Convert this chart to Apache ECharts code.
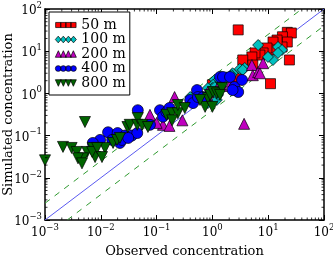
<!DOCTYPE html>
<html><head><meta charset="utf-8">
<script src="https://cdn.jsdelivr.net/npm/echarts@6/dist/echarts.min.js"></script>
<style>html,body{margin:0;padding:0;background:#fff}#c{width:333px;height:260px}</style>
</head><body><div id="c"></div>
<script>
// Data: [observed, simulated]
const s50m = [[22,28],[26,27],[18,22],[22,16.5],[17.7,12.6],[14.4,18.4],[12.2,16.5],[11.7,10.7],[9.5,11.9],[8.1,9.1],[7.1,8.1],[5.8,9.1],[5.1,7.3],[3.5,6.2],[5.3,4.7],[2.8,2.3],[1.0,1.6],[2.9,32],[11,1.7],[24,6.2]];
const s100m = [[6.6,14],[15,12.6],[17.7,10.7],[15,9.1],[12.2,6.2],[9.9,7.3],[3.8,4.0],[3.1,3.8],[3.5,3.6],[2.3,3.0],[2.2,2.7],[1.8,2.4],[1.7,2.3],[1.1,2.1],[1.2,1.9],[1.26,1.6],[1.03,1.6],[1.0,1.34],[0.83,1.34],[0.53,0.92],[0.43,0.78],[0.6,0.92],[0.40,0.82],[1.2,0.70],[1.26,0.92],[0.83,0.59],[1.1,1.4]];
const s200m = [[0.21,0.82],[0.076,0.31],[0.13,0.18],[0.17,0.17],[0.29,0.23],[0.10,0.20],[0.80,0.92],[0.83,1.08],[1.37,1.76],[2.2,1.9],[5.1,4.7],[5.3,2.7],[6.6,3.2],[8.1,5.2],[7.1,3.0],[3.7,0.19],[1.5,1.5]];
const s400m = [[0.0135,0.12],[0.0097,0.079],[0.0072,0.067],[0.020,0.115],[0.027,0.10],[0.036,0.10],[0.045,0.115],[0.022,0.067],[0.046,0.40],[0.024,0.079],[0.076,0.18],[0.115,0.40],[0.13,0.28],[0.15,0.36],[0.17,0.45],[0.40,0.70],[0.53,1.2],[0.45,0.59],[0.55,0.82],[0.68,0.82],[1.37,2.45],[1.55,2.45],[2.07,2.45],[2.5,1.42],[2.9,1.08],[3.4,2.08],[2.3,1.2],[0.031,0.088],[0.016,0.079]];
const s800m = [[0.0052,0.21],[0.001,0.026],[0.0021,0.054],[0.0030,0.051],[0.0037,0.041],[0.0057,0.041],[0.0048,0.029],[0.0072,0.051],[0.0079,0.031],[0.0119,0.051],[0.0039,0.029],[0.0046,0.022],[0.0070,0.041],[0.0086,0.051],[0.0105,0.031],[0.0166,0.067],[0.0195,0.079],[0.022,0.088],[0.030,0.16],[0.033,0.18],[0.045,0.18],[0.046,0.26],[0.055,0.18],[0.070,0.16],[0.15,0.31],[0.19,0.34],[0.24,0.34],[0.24,0.53],[0.32,0.45],[0.19,0.23],[0.74,0.48],[0.83,0.78],[1.0,0.48],[0.91,0.92],[1.03,1.08],[1.2,1.0],[1.49,1.34],[1.37,0.92],[0.60,0.70]];
const seriesNames = ['50 m','100 m','200 m','400 m','800 m'];
const axisMin = 0.001, axisMax = 100;
const majorExps = [-3,-2,-1,0,1];   // decades that carry minor ticks
const minorMult = [2,3,4,5,6,7,8,9];
const factor = 2.5;                 // dashed band factor
const oneToOne = [[axisMin,axisMin],[axisMax,axisMax]];
const upperBand = [[axisMin,axisMin*factor],[axisMax/factor,axisMax]];
const lowerBand = [[axisMin*factor,axisMin],[axisMax,axisMax/factor]];

const FONT = 'DejaVu Serif';
const fmt = v => { const e = Math.round(Math.log10(v)); return '{b|10}{s|' + (e < 0 ? '\u2212' + (-e) : e) + '}'; };
const rich = {
  b: {fontSize: 12, fontFamily: FONT, color: '#000', lineHeight: 16, verticalAlign: 'bottom'},
  s: {fontSize: 8.5, fontFamily: FONT, color: '#000', lineHeight: 16, verticalAlign: 'top'}
};

// legend icons: four markers each
const cx = [3, 8.33, 13.67, 19];
const pad = 'M0,0M22,7';
const iconSq = 'path://' + pad + cx.map(c => `M${c-2.7},0.8h5.4v5.4h-5.4Z`).join('');
const iconDi = 'path://' + pad + cx.map(c => `M${c},0L${c+3},3.5L${c},7L${c-3},3.5Z`).join('');
const iconUp = 'path://' + pad + cx.map(c => `M${c},0L${c+3.2},7L${c-3.2},7Z`).join('');
const iconCi = 'path://' + pad + cx.map(c => `M${c+3},3.5A3,3 0 1 1 ${c-3},3.5A3,3 0 1 1 ${c+3},3.5Z`).join('');
const iconDn = 'path://' + pad + cx.map(c => `M${c-3.2},0L${c+3.2},0L${c},7Z`).join('');

const minorData = [];
majorExps.forEach(e => minorMult.forEach(m => {
  const v = m * Math.pow(10, e);
  minorData.push([v, 1, 0]);
  minorData.push([1, v, 1]);
}));

const edge = {borderColor: '#000', borderWidth: 0.7};
const logAxis = (pos, labels) => ({
  type: 'log', logBase: 10, min: axisMin, max: axisMax, position: pos,
  axisLine: {show: true, onZero: false, lineStyle: {color: '#000', width: 1.5}},
  axisTick: {show: true, inside: true, length: 5, lineStyle: {color: '#000', width: 1}},
  splitLine: {show: false},
  axisLabel: labels ? {show: true, formatter: fmt, rich: rich, showMinLabel: true, showMaxLabel: true, hideOverlap: false} : {show: false}
});

const xB = Object.assign(logAxis('bottom', true), {name: 'Observed concentration', nameLocation: 'middle', nameGap: 25,
  nameMoveOverlap: false,
  nameTextStyle: {fontFamily: FONT, fontSize: 13, color: '#000', verticalAlign: 'top'}});
xB.axisLabel.margin = 3;
xB.axisLabel.align = 'center';
const yL = Object.assign(logAxis('left', true), {name: 'Simulated concentration', nameLocation: 'middle', nameGap: 30,
  nameMoveOverlap: false,
  nameTextStyle: {fontFamily: FONT, fontSize: 13, color: '#000'}});
yL.axisLabel.margin = 3;
yL.axisLabel.align = 'right';

const sc = (name, data, color, symbol, size, rot) => ({
  name, type: 'scatter', data, symbol, symbolSize: size, symbolRotate: rot || 0,
  itemStyle: Object.assign({color, opacity: 1}, edge), xAxisIndex: 0, yAxisIndex: 0, z: 3
});
const refLine = (data, color, type, w) => ({
  type: 'line', data, showSymbol: false, symbol: 'none', silent: true, z: 2,
  lineStyle: {color, width: w, type}, xAxisIndex: 0, yAxisIndex: 0
});

const chart = echarts.init(document.getElementById('c'), null, {renderer: 'canvas'});
chart.setOption({
  animation: false,
  backgroundColor: '#fff',
  grid: {left: 45, right: 9, top: 9, bottom: 40, containLabel: false, outerBoundsMode: 'none'},
  xAxis: [xB, logAxis('top', false)],
  yAxis: [yL, logAxis('right', false)],
  legend: {
    orient: 'vertical', left: 49, top: 12, padding: [6, 4, 5, 6], itemGap: 0.5,
    itemWidth: 21, itemHeight: 7, backgroundColor: '#fff', borderColor: '#000', borderWidth: 1, borderRadius: 0,
    textStyle: {fontFamily: FONT, fontSize: 14, color: '#000', lineHeight: 12},
    itemStyle: {borderColor: '#000', borderWidth: 0.7},
    data: [
      {name: seriesNames[0], icon: iconSq}, {name: seriesNames[1], icon: iconDi},
      {name: seriesNames[2], icon: iconUp}, {name: seriesNames[3], icon: iconCi},
      {name: seriesNames[4], icon: iconDn}
    ], z: 10
  },
  series: [
    refLine(oneToOne, '#5a5af0', 'solid', 1),
    refLine(upperBand, '#2f9a2f', [6, 6], 1),
    refLine(lowerBand, '#2f9a2f', [6, 6], 1),
    sc(seriesNames[0], s50m, '#ff0000', 'rect', 10),
    sc(seriesNames[1], s100m, '#00bfbf', 'diamond', 11),
    sc(seriesNames[2], s200m, '#bf00bf', 'triangle', 11),
    sc(seriesNames[3], s400m, '#0000ff', 'circle', 11),
    sc(seriesNames[4], s800m, '#006400', 'triangle', 11, 180),
    {
      type: 'custom', silent: true, z: 5, xAxisIndex: 0, yAxisIndex: 0, data: minorData,
      encode: {x: 0, y: 1}, clip: false,
      renderItem: (params, api) => {
        const cs = params.coordSys;
        const st = {stroke: '#000', lineWidth: 0.8};
        if (api.value(2) === 0) {
          const px = api.coord([api.value(0), 1])[0];
          return {type: 'group', children: [
            {type: 'line', shape: {x1: px, y1: cs.y + cs.height, x2: px, y2: cs.y + cs.height - 2.5}, style: st},
            {type: 'line', shape: {x1: px, y1: cs.y, x2: px, y2: cs.y + 2.5}, style: st}
          ]};
        }
        const py = api.coord([1, api.value(1)])[1];
        return {type: 'group', children: [
          {type: 'line', shape: {x1: cs.x, y1: py, x2: cs.x + 2.5, y2: py}, style: st},
          {type: 'line', shape: {x1: cs.x + cs.width, y1: py, x2: cs.x + cs.width - 2.5, y2: py}, style: st}
        ]};
      }
    }
  ]
});
</script></body></html>
